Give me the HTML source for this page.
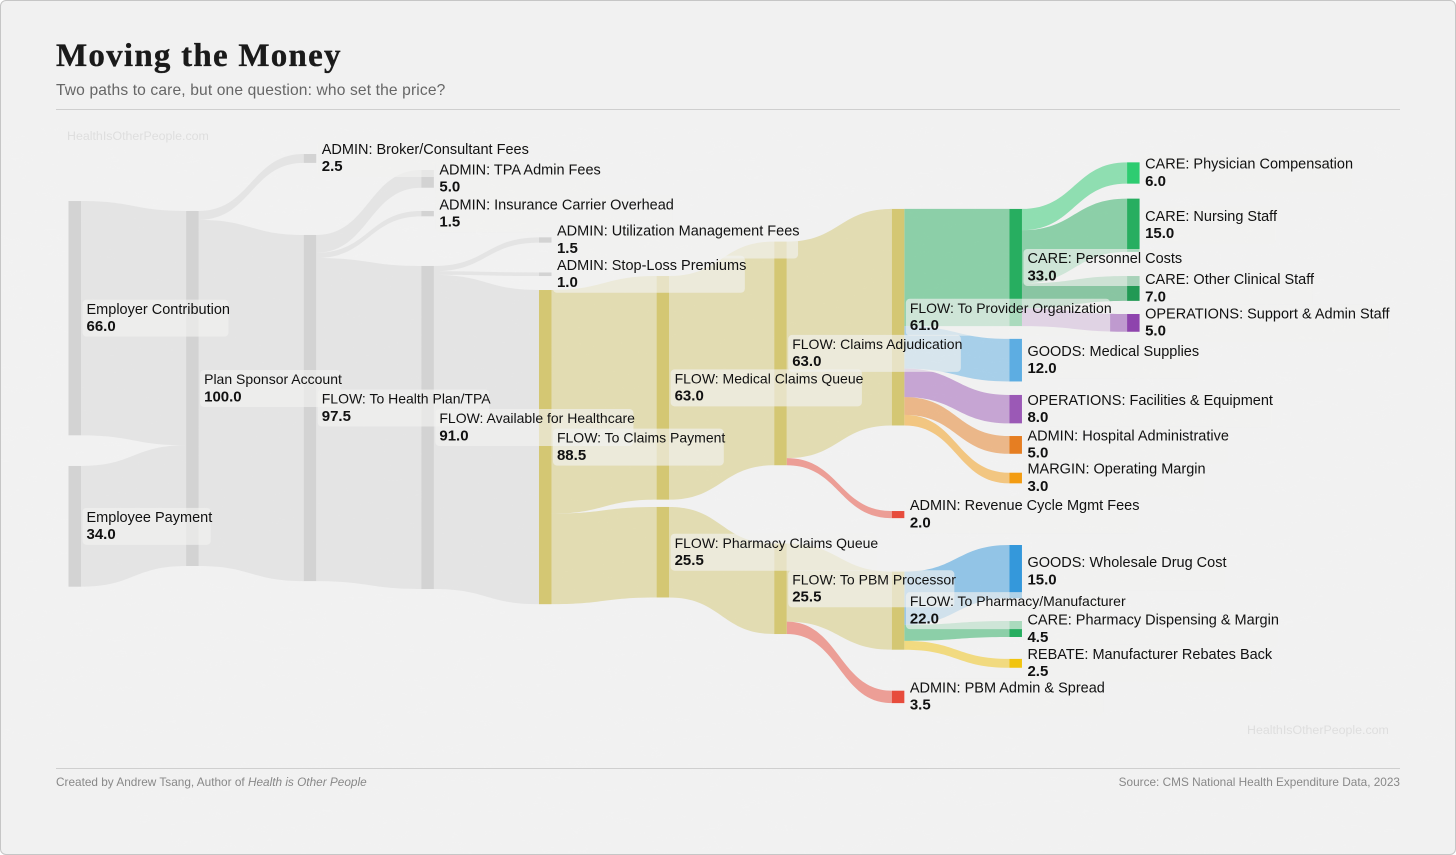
<!DOCTYPE html>
<html lang="en">
<head>
<meta charset="utf-8">
<title>Moving the Money</title>
<style>
html,body{margin:0;padding:0;background:#fff;}
#card{position:relative;width:1456px;height:855px;box-sizing:border-box;background:#f1f1f1;border:1px solid #c6c6c6;border-radius:6px;overflow:hidden;font-family:"Liberation Sans",Arial,sans-serif;}
#chart{position:absolute;left:-1px;top:-1px;}
#title{position:absolute;left:55px;top:37px;font:bold 33px "Liberation Serif",serif;color:#1a1a1a;letter-spacing:1.25px;-webkit-text-stroke:.35px #1a1a1a;white-space:nowrap;}
#subtitle{position:absolute;left:55px;top:81px;font-size:15.6px;color:#666;letter-spacing:.13px;white-space:nowrap;}
.rule{position:absolute;left:55px;width:1344px;height:1px;background:#cfcfcf;}
.foot{position:absolute;top:774px;font-size:11.8px;color:#888;white-space:nowrap;}
.mark{position:absolute;font-size:12.4px;color:#dedede;white-space:nowrap;}
</style>
</head>
<body>
<div id="card">
  <svg id="chart" width="1456" height="855" xmlns="http://www.w3.org/2000/svg">
    <defs>
      <filter id="paper" x="0" y="0" width="100%" height="100%">
        <feTurbulence type="fractalNoise" baseFrequency="0.03 0.12" numOctaves="3" seed="4"/>
        <feColorMatrix type="matrix" values="0 0 0 0 1  0 0 0 0 1  0 0 0 0 1  0.5 0 0 0 -0.2"/>
      </filter>
    </defs>
    <rect width="1456" height="855" filter="url(#paper)" opacity="0.08"/>
    <g id="links"></g>
    <g id="nodes"></g>
    <g id="boxes"></g>
    <g id="labels"></g>
  </svg>
  <div id="title">Moving the Money</div>
  <div id="subtitle">Two paths to care, but one question: who set the price?</div>
  <div class="rule" style="top:108px"></div>
  <div class="mark" style="left:66px;top:128px">HealthIsOtherPeople.com</div>
  <div class="mark" style="left:1246px;top:722px">HealthIsOtherPeople.com</div>
  <div class="rule" style="top:767px"></div>
  <div class="foot" style="left:55px">Created by Andrew Tsang, Author of <i>Health is Other People</i></div>
  <div class="foot" style="right:55px">Source: CMS National Health Expenditure Data, 2023</div>
</div>
<script>
// ---- data ----
const nodeNames = [
  "Employer Contribution","Employee Payment","Plan Sponsor Account",
  "ADMIN: Broker/Consultant Fees","FLOW: To Health Plan/TPA",
  "ADMIN: TPA Admin Fees","ADMIN: Insurance Carrier Overhead","FLOW: Available for Healthcare",
  "ADMIN: Utilization Management Fees","ADMIN: Stop-Loss Premiums","FLOW: To Claims Payment",
  "FLOW: Medical Claims Queue","FLOW: Pharmacy Claims Queue",
  "FLOW: Claims Adjudication","FLOW: To PBM Processor",
  "FLOW: To Provider Organization","ADMIN: Revenue Cycle Mgmt Fees","FLOW: To Pharmacy/Manufacturer","ADMIN: PBM Admin & Spread",
  "CARE: Personnel Costs","GOODS: Medical Supplies","OPERATIONS: Facilities & Equipment","ADMIN: Hospital Administrative","MARGIN: Operating Margin",
  "GOODS: Wholesale Drug Cost","CARE: Pharmacy Dispensing & Margin","REBATE: Manufacturer Rebates Back",
  "CARE: Physician Compensation","CARE: Nursing Staff","CARE: Other Clinical Staff","OPERATIONS: Support & Admin Staff"
];
const linkSources = [0,1,2,2,4,4,4,7,7,7,10,10,11,12,13,13,14,14,15,15,15,15,15,17,17,17,19,19,19,19];
const linkTargets = [2,2,3,4,5,6,7,8,9,10,11,12,13,14,15,16,17,18,19,20,21,22,23,24,25,26,27,28,29,30];
const linkValues  = [66,34,2.5,97.5,5,1.5,91,1.5,1,88.5,63,25.5,63,25.5,61,2,22,3.5,33,12,8,5,3,15,4.5,2.5,6,15,7,5];

// ---- layout (stage index and vertical level of each node's centre, in flow units) ----
const nodeStages = [0,0,1,2,2,3,3,3,4,4,4,5,5,6,6,7,7,7,7,8,8,8,8,8,8,8,8,9,9,9,9];
const nodeLevels = [47.37,106.01,67.18,2.38,72.69,8.13,17.93,78.17,25.35,35,83.69,66.99,113.3,57.3,123.6,47.1,102.7,129.76,154.06,33.1,59.2,73,83.07,92.4,118.77,134.93,144.6,6.48,21.2,39,48.7];

// ---- scales ----
const UNIT_PX = 3.55, PLOT_TOP = 150, STAGE_LEFT = 68.5, STAGE_STEP = 117.62, NODE_W = 12.5;
function xScale(stage){ return STAGE_LEFT + stage * STAGE_STEP; }
function yScale(level){ return PLOT_TOP + level * UNIT_PX; }
function thickness(value){ return value * UNIT_PX; }

// ---- styles ----
const GRAY='#d3d3d3', GOLD='#d4c773', GREEN='#27ae60';
function nodeColor(i){
  const special = {
    16:'#e74c3c',18:'#e74c3c',19:GREEN,20:'#5dade2',21:'#9b59b6',22:'#e67e22',23:'#f39c12',
    24:'#3498db',25:GREEN,26:'#f1c40f',27:'#2ecc71',28:GREEN,29:'#229954',30:'#8e44ad'
  };
  if (special[i]) return special[i];
  return i < 10 ? GRAY : GOLD;
}
function linkColor(s, t){
  if (s < 10 && t <= 10) return GRAY;
  if (t === 16 || t === 18 || t >= 19) return nodeColor(t);
  return GOLD;
}
function labelSize(name){
  return (name.indexOf('FLOW') === 0 || name.indexOf('Plan') === 0) ? '14' : '14.5';
}
function slug(s){ return s.toLowerCase().replace(/[^a-z0-9]+/g,'-').replace(/^-|-$/g,''); }

const NS = 'http://www.w3.org/2000/svg';
const gLinks = document.getElementById('links');
const gNodes = document.getElementById('nodes');
const gBoxes = document.getElementById('boxes');
const gLabels = document.getElementById('labels');

// node values from link totals
const inTotals = nodeNames.map(() => 0), outTotals = nodeNames.map(() => 0);
linkValues.forEach(function(v, i){
  outTotals[linkSources[i]] += v;
  inTotals[linkTargets[i]] += v;
});
const nodeValues = nodeNames.map(function(_, i){ return Math.max(inTotals[i], outTotals[i]); });
const nodeTops = nodeNames.map(function(_, i){ return yScale(nodeLevels[i]) - thickness(nodeValues[i]) / 2; });

// links
const outCursor = nodeTops.slice(), inCursor = nodeTops.slice();
linkValues.forEach(function(v, i){
  const s = linkSources[i], t = linkTargets[i], h = thickness(v);
  const x0 = xScale(nodeStages[s]) + NODE_W, x1 = xScale(nodeStages[t]);
  const y0 = outCursor[s], y1 = inCursor[t], xm = (x0 + x1) / 2;
  outCursor[s] += h; inCursor[t] += h;
  const d = 'M' + x0 + ',' + y0 + 'C' + xm + ',' + y0 + ' ' + xm + ',' + y1 + ' ' + x1 + ',' + y1 +
            'L' + x1 + ',' + (y1 + h) + 'C' + xm + ',' + (y1 + h) + ' ' + xm + ',' + (y0 + h) + ' ' + x0 + ',' + (y0 + h) + 'Z';
  const color = linkColor(s, t);
  const p = document.createElementNS(NS, 'path');
  p.setAttribute('d', d);
  p.setAttribute('fill', color);
  p.setAttribute('fill-opacity', color === GRAY ? '0.44' : '0.5');
  
  
  gLinks.appendChild(p);
});

// nodes and labels
nodeNames.forEach(function(name, i){
  const x = xScale(nodeStages[i]), top = nodeTops[i], h = thickness(nodeValues[i]), mid = top + h / 2;
  const r = document.createElementNS(NS, 'rect');
  r.setAttribute('x', x);
  r.setAttribute('y', top);
  r.setAttribute('width', NODE_W);
  r.setAttribute('height', h);
  r.setAttribute('fill', nodeColor(i));
  
  
  gNodes.appendChild(r);

  const tx = x + NODE_W + 5.5;
  const t1 = document.createElementNS(NS, 'text');
  t1.setAttribute('x', tx);
  t1.setAttribute('y', mid - 4.4);
  t1.setAttribute('font-family', '"Liberation Sans",Arial,sans-serif');
  t1.setAttribute('font-size', labelSize(name));
  t1.setAttribute('fill', '#111');
  t1.textContent = name;
  
  
  gLabels.appendChild(t1);

  const t2 = document.createElementNS(NS, 'text');
  t2.setAttribute('x', tx);
  t2.setAttribute('y', mid + 12.8);
  t2.setAttribute('font-family', '"Liberation Sans",Arial,sans-serif');
  t2.setAttribute('font-size', '15');
  t2.setAttribute('font-weight', 'bold');
  t2.setAttribute('fill', '#111');
  t2.textContent = nodeValues[i].toFixed(1);
  
  
  gLabels.appendChild(t2);

  const b = document.createElementNS(NS, 'rect');
  b.setAttribute('x', tx - 4);
  b.setAttribute('y', mid - 18.5);
  b.setAttribute('width', t1.getComputedTextLength() + 2.5);
  b.setAttribute('height', 37);
  b.setAttribute('rx', 4);
  b.setAttribute('fill', '#f1f1ef');
  b.setAttribute('fill-opacity', '0.65');
  
  
  gBoxes.appendChild(b);
});
</script>
</body>
</html>
